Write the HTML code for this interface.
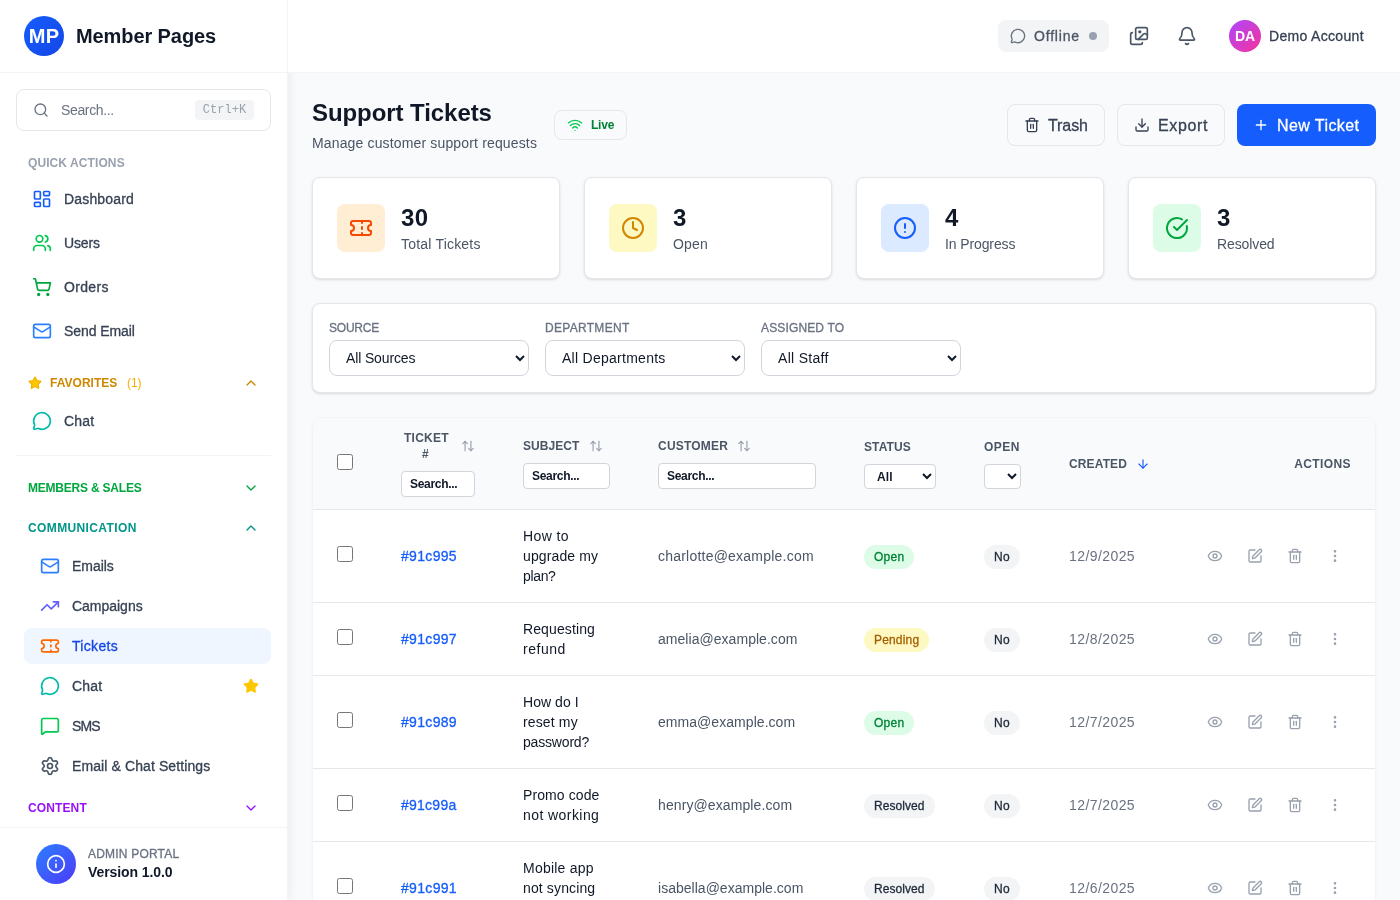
<!DOCTYPE html>
<html lang="en"><head><meta charset="utf-8"><title>Support Tickets</title>
<style>
*{box-sizing:border-box}
html,body{margin:0;padding:0}
html{width:1400px;height:900px;overflow:hidden}
body{width:1400px;height:900px;overflow:hidden;background:#f9fafb;font-family:"Liberation Sans", sans-serif;-webkit-font-smoothing:antialiased}
#app{position:relative;width:1400px;height:900px;overflow:hidden;will-change:transform}
.b,.t,.ic{position:absolute}
.t{white-space:nowrap;display:block}
.ic{display:block;overflow:visible}
select,input{font-family:inherit;margin:0}
</style></head>
<body>
<div id="app">
<div class="b" style="left:0px;top:0px;width:1400px;height:900px;background:#f9fafb"></div>
<div class="b" style="left:0px;top:0px;width:288px;height:900px;background:#fff;border-right:1px solid #f3f4f6;box-shadow:1px 0 10px rgba(16,24,40,.07)"></div>
<div class="b" style="left:288px;top:0px;width:1112px;height:73px;background:#fff;border-bottom:1px solid #f3f4f6"></div>
<div class="b" style="left:0px;top:72px;width:287px;height:1px;background:#f3f4f6"></div>
<div class="b" style="left:24px;top:16px;width:40px;height:40px;border-radius:50%;background:linear-gradient(135deg,#155dfc,#1447e6)"></div>
<span class="t " id="t0" style="left:0px;top:22px;line-height:28px;font-size:20px;font-weight:700;color:#fff;letter-spacing:0.36px;width:40px;text-align:center;left:24px">MP</span>
<span class="t " id="t1" style="left:76px;top:22px;line-height:28px;font-size:20px;font-weight:700;color:#101828;letter-spacing:-0.09px;">Member Pages</span>
<div class="b" style="left:16px;top:89px;width:255px;height:42px;border:1px solid #e5e7eb;border-radius:8px;background:#fff"></div>
<svg class="ic" style="left:33px;top:102px;color:#6a7282" width="16" height="16" viewBox="0 0 24 24" fill="none" stroke="#6a7282" stroke-width="2" stroke-linecap="round" stroke-linejoin="round"><circle cx="11" cy="11" r="8"/><path d="m21 21-4.3-4.3"/></svg>
<span class="t " id="t2" style="left:61px;top:99.5px;line-height:21px;font-size:14px;font-weight:400;color:#6a7282;letter-spacing:-0.36px;">Search...</span>
<div class="b" style="left:195px;top:100px;width:59px;height:20px;background:#f3f4f6;border-radius:4px"></div>
<span class="t mono" id="t3" style="left:0px;top:102px;line-height:16px;font-size:12px;font-weight:400;color:#99a1af;letter-spacing:0.06px;left:195px;width:59px;text-align:center;font-family:'Liberation Mono',monospace">Ctrl+K</span>
<span class="t " id="t4" style="left:28px;top:155px;line-height:16px;font-size:12px;font-weight:600;color:#99a1af;letter-spacing:0.09px;">QUICK ACTIONS</span>
<svg class="ic" style="left:32px;top:189px;color:#155dfc" width="20" height="20" viewBox="0 0 24 24" fill="none" stroke="#155dfc" stroke-width="2" stroke-linecap="round" stroke-linejoin="round"><rect width="7" height="9" x="3" y="3" rx="1"/><rect width="7" height="5" x="14" y="3" rx="1"/><rect width="7" height="9" x="14" y="12" rx="1"/><rect width="7" height="5" x="3" y="16" rx="1"/></svg>
<span class="t " id="t5" style="left:64px;top:189px;line-height:20px;font-size:14px;font-weight:500;color:#364153;letter-spacing:0.17px;-webkit-text-stroke:0.3px currentColor;">Dashboard</span>
<svg class="ic" style="left:32px;top:233px;color:#00c950" width="20" height="20" viewBox="0 0 24 24" fill="none" stroke="#00c950" stroke-width="2" stroke-linecap="round" stroke-linejoin="round"><path d="M16 21v-2a4 4 0 0 0-4-4H6a4 4 0 0 0-4 4v2"/><circle cx="9" cy="7" r="4"/><path d="M22 21v-2a4 4 0 0 0-3-3.87"/><path d="M16 3.13a4 4 0 0 1 0 7.75"/></svg>
<span class="t " id="t6" style="left:64px;top:233px;line-height:20px;font-size:14px;font-weight:500;color:#364153;letter-spacing:-0.12px;-webkit-text-stroke:0.3px currentColor;">Users</span>
<svg class="ic" style="left:32px;top:277px;color:#00a63e" width="20" height="20" viewBox="0 0 24 24" fill="none" stroke="#00a63e" stroke-width="2" stroke-linecap="round" stroke-linejoin="round"><circle cx="8" cy="21" r="1"/><circle cx="19" cy="21" r="1"/><path d="M2.05 2.05h2l2.66 12.42a2 2 0 0 0 2 1.58h9.78a2 2 0 0 0 1.95-1.57l1.65-7.43H5.12"/></svg>
<span class="t " id="t7" style="left:64px;top:277px;line-height:20px;font-size:14px;font-weight:500;color:#364153;letter-spacing:0.32px;-webkit-text-stroke:0.3px currentColor;">Orders</span>
<svg class="ic" style="left:32px;top:321px;color:#2b7fff" width="20" height="20" viewBox="0 0 24 24" fill="none" stroke="#2b7fff" stroke-width="2" stroke-linecap="round" stroke-linejoin="round"><rect width="20" height="16" x="2" y="4" rx="2"/><path d="m22 7-8.97 5.7a1.94 1.94 0 0 1-2.06 0L2 7"/></svg>
<span class="t " id="t8" style="left:64px;top:321px;line-height:20px;font-size:14px;font-weight:500;color:#364153;letter-spacing:-0.09px;-webkit-text-stroke:0.3px currentColor;">Send Email</span>
<svg class="ic" style="left:28px;top:376px;color:#f0b100" width="14" height="14" viewBox="0 0 24 24" fill="#fdc700" stroke="#f0b100" stroke-width="2" stroke-linecap="round" stroke-linejoin="round"><path d="M11.525 2.295a.53.53 0 0 1 .95 0l2.31 4.679a2.123 2.123 0 0 0 1.595 1.16l5.166.756a.53.53 0 0 1 .294.904l-3.736 3.638a2.123 2.123 0 0 0-.611 1.878l.882 5.14a.53.53 0 0 1-.771.56l-4.618-2.428a2.122 2.122 0 0 0-1.973 0L6.396 21.01a.53.53 0 0 1-.77-.56l.881-5.139a2.122 2.122 0 0 0-.611-1.879L2.16 9.795a.53.53 0 0 1 .294-.906l5.165-.755a2.122 2.122 0 0 0 1.597-1.16z"/></svg>
<span class="t " id="t9" style="left:50px;top:375px;line-height:16px;font-size:12px;font-weight:600;color:#d08700;letter-spacing:0.03px;">FAVORITES</span>
<span class="t " id="t10" style="left:127px;top:375px;line-height:16px;font-size:12px;font-weight:400;color:#f0b100;letter-spacing:-0.08px;">(1)</span>
<svg class="ic" style="left:243px;top:375px;color:#d08700" width="16" height="16" viewBox="0 0 24 24" fill="none" stroke="#d08700" stroke-width="2" stroke-linecap="round" stroke-linejoin="round"><path d="m18 15-6-6-6 6"/></svg>
<svg class="ic" style="left:32px;top:411px;color:#00bba7" width="20" height="20" viewBox="0 0 24 24" fill="none" stroke="#00bba7" stroke-width="2" stroke-linecap="round" stroke-linejoin="round"><path d="M2.992 16.342a2 2 0 0 1 .094 1.167l-1.065 3.29a1 1 0 0 0 1.236 1.168l3.413-.998a2 2 0 0 1 1.099.092 10 10 0 1 0-4.777-4.719"/></svg>
<span class="t " id="t11" style="left:64px;top:411px;line-height:20px;font-size:14px;font-weight:500;color:#364153;letter-spacing:0.15px;-webkit-text-stroke:0.3px currentColor;">Chat</span>
<div class="b" style="left:16px;top:455px;width:255px;height:1px;background:#f3f4f6"></div>
<span class="t " id="t12" style="left:28px;top:480px;line-height:16px;font-size:12px;font-weight:600;color:#00a63e;letter-spacing:-0.21px;">MEMBERS &amp; SALES</span>
<svg class="ic" style="left:243px;top:480px;color:#00a63e" width="16" height="16" viewBox="0 0 24 24" fill="none" stroke="#00a63e" stroke-width="2" stroke-linecap="round" stroke-linejoin="round"><path d="m6 9 6 6 6-6"/></svg>
<span class="t " id="t13" style="left:28px;top:520px;line-height:16px;font-size:12px;font-weight:600;color:#009689;letter-spacing:0.38px;">COMMUNICATION</span>
<svg class="ic" style="left:243px;top:520px;color:#009689" width="16" height="16" viewBox="0 0 24 24" fill="none" stroke="#009689" stroke-width="2" stroke-linecap="round" stroke-linejoin="round"><path d="m18 15-6-6-6 6"/></svg>
<div class="b" style="left:24px;top:628px;width:247px;height:36px;background:#eff6ff;border-radius:8px"></div>
<svg class="ic" style="left:40px;top:556px;color:#2b7fff" width="20" height="20" viewBox="0 0 24 24" fill="none" stroke="#2b7fff" stroke-width="2" stroke-linecap="round" stroke-linejoin="round"><rect width="20" height="16" x="2" y="4" rx="2"/><path d="m22 7-8.97 5.7a1.94 1.94 0 0 1-2.06 0L2 7"/></svg>
<span class="t " id="t14" style="left:72px;top:556px;line-height:20px;font-size:14px;font-weight:500;color:#364153;letter-spacing:-0.05px;-webkit-text-stroke:0.3px currentColor;">Emails</span>
<svg class="ic" style="left:40px;top:596px;color:#615fff" width="20" height="20" viewBox="0 0 24 24" fill="none" stroke="#615fff" stroke-width="2" stroke-linecap="round" stroke-linejoin="round"><polyline points="22 7 13.5 15.5 8.5 10.5 2 17"/><polyline points="16 7 22 7 22 13"/></svg>
<span class="t " id="t15" style="left:72px;top:596px;line-height:20px;font-size:14px;font-weight:500;color:#364153;letter-spacing:-0.02px;-webkit-text-stroke:0.3px currentColor;">Campaigns</span>
<svg class="ic" style="left:40px;top:636px;color:#ff6900" width="20" height="20" viewBox="0 0 24 24" fill="none" stroke="#ff6900" stroke-width="2" stroke-linecap="round" stroke-linejoin="round"><path d="M2 9a3 3 0 0 1 0 6v2a2 2 0 0 0 2 2h16a2 2 0 0 0 2-2v-2a3 3 0 0 1 0-6V7a2 2 0 0 0-2-2H4a2 2 0 0 0-2 2Z"/><path d="M13 5v2"/><path d="M13 17v2"/><path d="M13 11v2"/></svg>
<span class="t " id="t16" style="left:72px;top:636px;line-height:20px;font-size:14px;font-weight:500;color:#1447e6;letter-spacing:0.32px;-webkit-text-stroke:0.3px currentColor;">Tickets</span>
<svg class="ic" style="left:40px;top:676px;color:#00bba7" width="20" height="20" viewBox="0 0 24 24" fill="none" stroke="#00bba7" stroke-width="2" stroke-linecap="round" stroke-linejoin="round"><path d="M2.992 16.342a2 2 0 0 1 .094 1.167l-1.065 3.29a1 1 0 0 0 1.236 1.168l3.413-.998a2 2 0 0 1 1.099.092 10 10 0 1 0-4.777-4.719"/></svg>
<span class="t " id="t17" style="left:72px;top:676px;line-height:20px;font-size:14px;font-weight:500;color:#364153;letter-spacing:0.15px;-webkit-text-stroke:0.3px currentColor;">Chat</span>
<svg class="ic" style="left:40px;top:716px;color:#00c950" width="20" height="20" viewBox="0 0 24 24" fill="none" stroke="#00c950" stroke-width="2" stroke-linecap="round" stroke-linejoin="round"><path d="M22 17a2 2 0 0 1-2 2H6.828a2 2 0 0 0-1.414.586l-2.202 2.202A.71.71 0 0 1 2 21.286V5a2 2 0 0 1 2-2h16a2 2 0 0 1 2 2z"/></svg>
<span class="t " id="t18" style="left:72px;top:716px;line-height:20px;font-size:14px;font-weight:500;color:#364153;letter-spacing:-0.87px;-webkit-text-stroke:0.3px currentColor;">SMS</span>
<svg class="ic" style="left:40px;top:756px;color:#4a5565" width="20" height="20" viewBox="0 0 24 24" fill="none" stroke="#4a5565" stroke-width="2" stroke-linecap="round" stroke-linejoin="round"><path d="M9.671 4.136a2.34 2.34 0 0 1 4.659 0 2.34 2.34 0 0 0 3.319 1.915 2.34 2.34 0 0 1 2.33 4.033 2.34 2.34 0 0 0 0 3.831 2.34 2.34 0 0 1-2.33 4.033 2.34 2.34 0 0 0-3.319 1.915 2.34 2.34 0 0 1-4.659 0 2.34 2.34 0 0 0-3.32-1.915 2.34 2.34 0 0 1-2.33-4.033 2.34 2.34 0 0 0 0-3.831A2.34 2.34 0 0 1 6.35 6.051a2.34 2.34 0 0 0 3.319-1.915"/><circle cx="12" cy="12" r="3"/></svg>
<span class="t " id="t19" style="left:72px;top:756px;line-height:20px;font-size:14px;font-weight:500;color:#364153;letter-spacing:0.1px;-webkit-text-stroke:0.3px currentColor;">Email &amp; Chat Settings</span>
<svg class="ic" style="left:243px;top:678px;color:#fdc700" width="16" height="16" viewBox="0 0 24 24" fill="#fdc700" stroke="#fdc700" stroke-width="2" stroke-linecap="round" stroke-linejoin="round"><path d="M11.525 2.295a.53.53 0 0 1 .95 0l2.31 4.679a2.123 2.123 0 0 0 1.595 1.16l5.166.756a.53.53 0 0 1 .294.904l-3.736 3.638a2.123 2.123 0 0 0-.611 1.878l.882 5.14a.53.53 0 0 1-.771.56l-4.618-2.428a2.122 2.122 0 0 0-1.973 0L6.396 21.01a.53.53 0 0 1-.77-.56l.881-5.139a2.122 2.122 0 0 0-.611-1.879L2.16 9.795a.53.53 0 0 1 .294-.906l5.165-.755a2.122 2.122 0 0 0 1.597-1.16z"/></svg>
<span class="t " id="t20" style="left:28px;top:800px;line-height:16px;font-size:12px;font-weight:600;color:#9810fa;letter-spacing:0.12px;">CONTENT</span>
<svg class="ic" style="left:243px;top:800px;color:#9810fa" width="16" height="16" viewBox="0 0 24 24" fill="none" stroke="#9810fa" stroke-width="2" stroke-linecap="round" stroke-linejoin="round"><path d="m6 9 6 6 6-6"/></svg>
<div class="b" style="left:0px;top:827px;width:287px;height:73px;background:#fff;border-top:1px solid #f3f4f6"></div>
<div class="b" style="left:36px;top:844px;width:40px;height:40px;border-radius:50%;background:linear-gradient(135deg,#2b7fff,#4f39f6)"></div>
<svg class="ic" style="left:46px;top:854px;color:#fff" width="20" height="20" viewBox="0 0 24 24" fill="none" stroke="#fff" stroke-width="2" stroke-linecap="round" stroke-linejoin="round"><circle cx="12" cy="12" r="10"/><path d="M12 16v-4"/><path d="M12 8h.01"/></svg>
<span class="t " id="t21" style="left:88px;top:846px;line-height:16px;font-size:12px;font-weight:500;color:#6a7282;letter-spacing:0.2px;-webkit-text-stroke:0.3px currentColor;">ADMIN PORTAL</span>
<span class="t " id="t22" style="left:88px;top:862px;line-height:20px;font-size:14px;font-weight:600;color:#101828;letter-spacing:-0.08px;">Version 1.0.0</span>
<div class="b" style="left:998px;top:20px;width:111px;height:32px;background:#f3f4f6;border-radius:8px"></div>
<svg class="ic" style="left:1010px;top:28px;color:#6a7282" width="16" height="16" viewBox="0 0 24 24" fill="none" stroke="#6a7282" stroke-width="2" stroke-linecap="round" stroke-linejoin="round"><path d="M2.992 16.342a2 2 0 0 1 .094 1.167l-1.065 3.29a1 1 0 0 0 1.236 1.168l3.413-.998a2 2 0 0 1 1.099.092 10 10 0 1 0-4.777-4.719"/></svg>
<span class="t " id="t23" style="left:1034px;top:26px;line-height:20px;font-size:14px;font-weight:500;color:#4a5565;letter-spacing:0.8px;-webkit-text-stroke:0.3px currentColor;">Offline</span>
<div class="b" style="left:1089px;top:32px;width:8px;height:8px;background:#99a1af;border-radius:50%"></div>
<svg class="ic" style="left:1129px;top:26px;color:#4a5565" width="20" height="20" viewBox="0 0 24 24" fill="none" stroke="#4a5565" stroke-width="2" stroke-linecap="round" stroke-linejoin="round"><path d="M4 8a2 2 0 0 0-2 2v10a2 2 0 0 0 2 2h10a2 2 0 0 0 2-2"/><rect width="14" height="14" x="8" y="2" rx="2"/><circle cx="13" cy="7" r="1" fill="currentColor"/><path d="m22 11-1.296-1.296a2.4 2.4 0 0 0-3.408 0L11 16"/></svg>
<svg class="ic" style="left:1177px;top:26px;color:#4a5565" width="20" height="20" viewBox="0 0 24 24" fill="none" stroke="#4a5565" stroke-width="2" stroke-linecap="round" stroke-linejoin="round"><path d="M10.268 21a2 2 0 0 0 3.464 0"/><path d="M3.262 15.326A1 1 0 0 0 4 17h16a1 1 0 0 0 .74-1.673C19.41 13.956 18 12.499 18 8A6 6 0 0 0 6 8c0 4.499-1.411 5.956-2.738 7.326"/></svg>
<div class="b" style="left:1229px;top:20px;width:32px;height:32px;border-radius:50%;background:linear-gradient(135deg,#ad46ff,#f6339a)"></div>
<span class="t " id="t24" style="left:0px;top:26px;line-height:20px;font-size:14px;font-weight:600;color:#fff;letter-spacing:-0.16px;left:1229px;width:32px;text-align:center">DA</span>
<span class="t " id="t25" style="left:1269px;top:26px;line-height:20px;font-size:14px;font-weight:500;color:#364153;letter-spacing:0.32px;-webkit-text-stroke:0.3px currentColor;">Demo Account</span>
<span class="t " id="t26" style="left:312px;top:97px;line-height:32px;font-size:24px;font-weight:700;color:#101828;letter-spacing:-0.07px;">Support Tickets</span>
<span class="t " id="t27" style="left:312px;top:133px;line-height:20px;font-size:14px;font-weight:400;color:#4a5565;letter-spacing:0.15px;">Manage customer support requests</span>
<div class="b" style="left:554px;top:110px;width:73px;height:30px;border:1px solid #e5e7eb;border-radius:8px;background:#f9fafb"></div>
<svg class="ic" style="left:567px;top:117px;color:#00c950" width="16" height="16" viewBox="0 0 24 24" fill="none" stroke="#00c950" stroke-width="2" stroke-linecap="round" stroke-linejoin="round"><path d="M12 20h.01"/><path d="M2 8.82a15 15 0 0 1 20 0"/><path d="M5 12.859a10 10 0 0 1 14 0"/><path d="M8.5 16.429a5 5 0 0 1 7 0"/></svg>
<span class="t " id="t28" style="left:591px;top:117px;line-height:16px;font-size:12px;font-weight:600;color:#008236;letter-spacing:-0.21px;">Live</span>
<div class="b" style="left:1007px;top:104px;width:98px;height:42px;border:1px solid #e5e7eb;border-radius:8px;background:#f9fafb"></div>
<svg class="ic" style="left:1024px;top:117px;color:#364153" width="16" height="16" viewBox="0 0 24 24" fill="none" stroke="#364153" stroke-width="2" stroke-linecap="round" stroke-linejoin="round"><path d="M10 11v6"/><path d="M14 11v6"/><path d="M19 6v14a2 2 0 0 1-2 2H7a2 2 0 0 1-2-2V6"/><path d="M3 6h18"/><path d="M8 6V4a2 2 0 0 1 2-2h4a2 2 0 0 1 2 2v2"/></svg>
<span class="t " id="t29" style="left:1048px;top:114px;line-height:24px;font-size:16px;font-weight:500;color:#364153;letter-spacing:-0.08px;-webkit-text-stroke:0.3px currentColor;">Trash</span>
<div class="b" style="left:1117px;top:104px;width:108px;height:42px;border:1px solid #e5e7eb;border-radius:8px;background:#f9fafb"></div>
<svg class="ic" style="left:1134px;top:117px;color:#364153" width="16" height="16" viewBox="0 0 24 24" fill="none" stroke="#364153" stroke-width="2" stroke-linecap="round" stroke-linejoin="round"><path d="M21 15v4a2 2 0 0 1-2 2H5a2 2 0 0 1-2-2v-4"/><polyline points="7 10 12 15 17 10"/><line x1="12" x2="12" y1="15" y2="3"/></svg>
<span class="t " id="t30" style="left:1158px;top:114px;line-height:24px;font-size:16px;font-weight:500;color:#364153;letter-spacing:0.62px;-webkit-text-stroke:0.3px currentColor;">Export</span>
<div class="b" style="left:1237px;top:104px;width:139px;height:42px;border-radius:8px;background:#155dfc"></div>
<svg class="ic" style="left:1253px;top:117px;color:#fff" width="16" height="16" viewBox="0 0 24 24" fill="none" stroke="#fff" stroke-width="2" stroke-linecap="round" stroke-linejoin="round"><path d="M5 12h14"/><path d="M12 5v14"/></svg>
<span class="t " id="t31" style="left:1277px;top:114px;line-height:24px;font-size:16px;font-weight:500;color:#fff;letter-spacing:0.42px;-webkit-text-stroke:0.3px currentColor;">New Ticket</span>
<div class="b" style="left:312px;top:177px;width:248px;height:102px;background:#fff;border:1px solid #e5e7eb;border-radius:8px;box-shadow:0 1px 3px rgba(0,0,0,.1),0 1px 2px -1px rgba(0,0,0,.1)"></div>
<div class="b" style="left:337px;top:204px;width:48px;height:48px;background:#ffedd4;border-radius:8px"></div>
<svg class="ic" style="left:349px;top:216px;color:#f54900" width="24" height="24" viewBox="0 0 24 24" fill="none" stroke="#f54900" stroke-width="2" stroke-linecap="round" stroke-linejoin="round"><path d="M2 9a3 3 0 0 1 0 6v2a2 2 0 0 0 2 2h16a2 2 0 0 0 2-2v-2a3 3 0 0 1 0-6V7a2 2 0 0 0-2-2H4a2 2 0 0 0-2 2Z"/><path d="M13 5v2"/><path d="M13 17v2"/><path d="M13 11v2"/></svg>
<span class="t " id="t32" style="left:401px;top:202px;line-height:32px;font-size:24px;font-weight:700;color:#101828;letter-spacing:0.3px;">30</span>
<span class="t " id="t33" style="left:401px;top:234px;line-height:20px;font-size:14px;font-weight:400;color:#4a5565;letter-spacing:0.2px;">Total Tickets</span>
<div class="b" style="left:584px;top:177px;width:248px;height:102px;background:#fff;border:1px solid #e5e7eb;border-radius:8px;box-shadow:0 1px 3px rgba(0,0,0,.1),0 1px 2px -1px rgba(0,0,0,.1)"></div>
<div class="b" style="left:609px;top:204px;width:48px;height:48px;background:#fef9c2;border-radius:8px"></div>
<svg class="ic" style="left:621px;top:216px;color:#d08700" width="24" height="24" viewBox="0 0 24 24" fill="none" stroke="#d08700" stroke-width="2" stroke-linecap="round" stroke-linejoin="round"><circle cx="12" cy="12" r="10"/><polyline points="12 6 12 12 16 14"/></svg>
<span class="t " id="t34" style="left:673px;top:202px;line-height:32px;font-size:24px;font-weight:700;color:#101828;letter-spacing:0.3px;">3</span>
<span class="t " id="t35" style="left:673px;top:234px;line-height:20px;font-size:14px;font-weight:400;color:#4a5565;letter-spacing:0.2px;">Open</span>
<div class="b" style="left:856px;top:177px;width:248px;height:102px;background:#fff;border:1px solid #e5e7eb;border-radius:8px;box-shadow:0 1px 3px rgba(0,0,0,.1),0 1px 2px -1px rgba(0,0,0,.1)"></div>
<div class="b" style="left:881px;top:204px;width:48px;height:48px;background:#dbeafe;border-radius:8px"></div>
<svg class="ic" style="left:893px;top:216px;color:#155dfc" width="24" height="24" viewBox="0 0 24 24" fill="none" stroke="#155dfc" stroke-width="2" stroke-linecap="round" stroke-linejoin="round"><circle cx="12" cy="12" r="10"/><line x1="12" x2="12" y1="8" y2="12"/><line x1="12" x2="12.01" y1="16" y2="16"/></svg>
<span class="t " id="t36" style="left:945px;top:202px;line-height:32px;font-size:24px;font-weight:700;color:#101828;letter-spacing:0.3px;">4</span>
<span class="t " id="t37" style="left:945px;top:234px;line-height:20px;font-size:14px;font-weight:400;color:#4a5565;letter-spacing:-0.11px;">In Progress</span>
<div class="b" style="left:1128px;top:177px;width:248px;height:102px;background:#fff;border:1px solid #e5e7eb;border-radius:8px;box-shadow:0 1px 3px rgba(0,0,0,.1),0 1px 2px -1px rgba(0,0,0,.1)"></div>
<div class="b" style="left:1153px;top:204px;width:48px;height:48px;background:#dcfce7;border-radius:8px"></div>
<svg class="ic" style="left:1165px;top:216px;color:#00a63e" width="24" height="24" viewBox="0 0 24 24" fill="none" stroke="#00a63e" stroke-width="2" stroke-linecap="round" stroke-linejoin="round"><path d="M21.801 10A10 10 0 1 1 17 3.335"/><path d="m9 11 3 3L22 4"/></svg>
<span class="t " id="t38" style="left:1217px;top:202px;line-height:32px;font-size:24px;font-weight:700;color:#101828;letter-spacing:0.3px;">3</span>
<span class="t " id="t39" style="left:1217px;top:234px;line-height:20px;font-size:14px;font-weight:400;color:#4a5565;letter-spacing:-0.11px;">Resolved</span>
<div class="b" style="left:312px;top:303px;width:1064px;height:90px;background:#fff;border:1px solid #e5e7eb;border-radius:8px;box-shadow:0 1px 3px rgba(0,0,0,.1),0 1px 2px -1px rgba(0,0,0,.1)"></div>
<span class="t " id="t40" style="left:329px;top:320px;line-height:16px;font-size:12px;font-weight:500;color:#6a7282;letter-spacing:-0.21px;-webkit-text-stroke:0.3px currentColor;">SOURCE</span>
<select class="b sel" id="t41" style="left:329px;top:340px;width:200px;height:36px;font-size:14px;padding:0 12px;border:1px solid #d1d5dc;border-radius:8px;background:#fff;color:#101828;letter-spacing:-0.14px"><option>All Sources</option></select>
<span class="t " id="t42" style="left:545px;top:320px;line-height:16px;font-size:12px;font-weight:500;color:#6a7282;letter-spacing:0.3px;-webkit-text-stroke:0.3px currentColor;">DEPARTMENT</span>
<select class="b sel" id="t43" style="left:545px;top:340px;width:200px;height:36px;font-size:14px;padding:0 12px;border:1px solid #d1d5dc;border-radius:8px;background:#fff;color:#101828;letter-spacing:0.27px"><option>All Departments</option></select>
<span class="t " id="t44" style="left:761px;top:320px;line-height:16px;font-size:12px;font-weight:500;color:#6a7282;letter-spacing:0.14px;-webkit-text-stroke:0.3px currentColor;">ASSIGNED TO</span>
<select class="b sel" id="t45" style="left:761px;top:340px;width:200px;height:36px;font-size:14px;padding:0 12px;border:1px solid #d1d5dc;border-radius:8px;background:#fff;color:#101828;letter-spacing:0.3px"><option>All Staff</option></select>
<div class="b" style="left:312px;top:417px;width:1064px;height:620px;background:#fff;border:1px solid #f3f4f6;border-radius:12px;box-shadow:0 1px 2px rgba(0,0,0,.05)"></div>
<div class="b" style="left:313px;top:418px;width:1062px;height:91px;background:#f9fafb;border-radius:11px 11px 0 0"></div>
<div class="b" style="left:313px;top:509px;width:1062px;height:1px;background:#e5e7eb"></div>
<input type="checkbox" class="b" style="left:337px;top:454px;margin:0;width:16px;height:16px">
<span class="t " id="t46" style="left:404px;top:430px;line-height:16px;font-size:12px;font-weight:600;color:#4a5565;letter-spacing:0.24px;">TICKET</span>
<span class="t " id="t47" style="left:422px;top:446px;line-height:16px;font-size:12px;font-weight:600;color:#4a5565;letter-spacing:1.5px;">#</span>
<svg class="ic" style="left:461px;top:439px;color:#99a1af" width="14" height="14" viewBox="0 0 24 24" fill="none" stroke="#99a1af" stroke-width="2" stroke-linecap="round" stroke-linejoin="round"><path d="m21 16-4 4-4-4"/><path d="M17 20V4"/><path d="m3 8 4-4 4 4"/><path d="M7 4v16"/></svg>
<svg class="ic" style="left:589px;top:439px;color:#99a1af" width="14" height="14" viewBox="0 0 24 24" fill="none" stroke="#99a1af" stroke-width="2" stroke-linecap="round" stroke-linejoin="round"><path d="m21 16-4 4-4-4"/><path d="M17 20V4"/><path d="m3 8 4-4 4 4"/><path d="M7 4v16"/></svg>
<svg class="ic" style="left:737px;top:439px;color:#99a1af" width="14" height="14" viewBox="0 0 24 24" fill="none" stroke="#99a1af" stroke-width="2" stroke-linecap="round" stroke-linejoin="round"><path d="m21 16-4 4-4-4"/><path d="M17 20V4"/><path d="m3 8 4-4 4 4"/><path d="M7 4v16"/></svg>
<span class="t " id="t48" style="left:523px;top:438px;line-height:16px;font-size:12px;font-weight:600;color:#4a5565;letter-spacing:0.04px;">SUBJECT</span>
<span class="t " id="t49" style="left:658px;top:438px;line-height:16px;font-size:12px;font-weight:600;color:#4a5565;letter-spacing:0.21px;">CUSTOMER</span>
<span class="t " id="t50" style="left:864px;top:439px;line-height:16px;font-size:12px;font-weight:600;color:#4a5565;letter-spacing:0.11px;">STATUS</span>
<span class="t " id="t51" style="left:984px;top:439px;line-height:16px;font-size:12px;font-weight:600;color:#4a5565;letter-spacing:0.45px;">OPEN</span>
<span class="t " id="t52" style="left:1069px;top:456px;line-height:16px;font-size:12px;font-weight:600;color:#4a5565;letter-spacing:0.13px;">CREATED</span>
<svg class="ic" style="left:1136px;top:457px;color:#155dfc" width="14" height="14" viewBox="0 0 24 24" fill="none" stroke="#155dfc" stroke-width="2" stroke-linecap="round" stroke-linejoin="round"><path d="M12 5v14"/><path d="m19 12-7 7-7-7"/></svg>
<span class="t " id="t53" style="right:49px;top:456px;line-height:16px;font-size:12px;font-weight:600;color:#4a5565;letter-spacing:0.4px;">ACTIONS</span>
<div class="b" style="left:401px;top:471px;width:74px;height:26px;border:1px solid #d1d5dc;border-radius:4px;background:#fff"></div>
<span class="t " id="t54" style="left:410px;top:476px;line-height:16px;font-size:12px;font-weight:600;color:#101828;letter-spacing:-0.31px;">Search...</span>
<div class="b" style="left:523px;top:463px;width:87px;height:26px;border:1px solid #d1d5dc;border-radius:4px;background:#fff"></div>
<span class="t " id="t55" style="left:532px;top:468px;line-height:16px;font-size:12px;font-weight:600;color:#101828;letter-spacing:-0.31px;">Search...</span>
<div class="b" style="left:658px;top:463px;width:158px;height:26px;border:1px solid #d1d5dc;border-radius:4px;background:#fff"></div>
<span class="t " id="t56" style="left:667px;top:468px;line-height:16px;font-size:12px;font-weight:600;color:#101828;letter-spacing:-0.31px;">Search...</span>
<select class="b sel" id="t57" style="left:864px;top:464px;width:72px;height:25px;font-size:12px;font-weight:600;padding:0 4px 0 8px;border:1px solid #d1d5dc;border-radius:4px;background:#fff;color:#101828;letter-spacing:0.17px"><option>All</option></select>
<select class="b sel" style="left:984px;top:464px;width:37px;height:25px;font-size:12px;font-weight:600;padding:0 4px 0 8px;border:1px solid #d1d5dc;border-radius:4px;background:#fff;color:#101828"><option></option></select>
<div class="b" style="left:313px;top:602px;width:1062px;height:1px;background:#e5e7eb"></div>
<div class="b" style="left:313px;top:675px;width:1062px;height:1px;background:#e5e7eb"></div>
<div class="b" style="left:313px;top:768px;width:1062px;height:1px;background:#e5e7eb"></div>
<div class="b" style="left:313px;top:841px;width:1062px;height:1px;background:#e5e7eb"></div>
<div class="b" style="left:313px;top:934px;width:1062px;height:1px;background:#e5e7eb"></div>
<input type="checkbox" class="b" style="left:337px;top:546px;margin:0;width:16px;height:16px">
<span class="t " id="t58" style="left:401px;top:546px;line-height:20px;font-size:14px;font-weight:500;color:#155dfc;letter-spacing:0.32px;-webkit-text-stroke:0.3px currentColor;">#91c995</span>
<span class="t " id="t59" style="left:523px;top:526px;line-height:20px;font-size:14px;font-weight:400;color:#101828;letter-spacing:0.41px;">How to</span>
<span class="t " id="t60" style="left:523px;top:546px;line-height:20px;font-size:14px;font-weight:400;color:#101828;letter-spacing:0.13px;">upgrade my</span>
<span class="t " id="t61" style="left:523px;top:566px;line-height:20px;font-size:14px;font-weight:400;color:#101828;letter-spacing:-0.35px;">plan?</span>
<span class="t " id="t62" style="left:658px;top:546px;line-height:20px;font-size:14px;font-weight:400;color:#4a5565;letter-spacing:0.22px;">charlotte@example.com</span>
<div class="b" style="left:864px;top:545px;width:50px;height:24px;background:#dcfce7;border-radius:12px"></div>
<span class="t " id="t63" style="left:874px;top:549px;line-height:16px;font-size:12px;font-weight:500;color:#008236;letter-spacing:0.26px;-webkit-text-stroke:0.3px currentColor;">Open</span>
<div class="b" style="left:984px;top:545px;width:36px;height:24px;background:#f3f4f6;border-radius:12px"></div>
<span class="t " id="t64" style="left:994px;top:549px;line-height:16px;font-size:12px;font-weight:500;color:#1e2939;letter-spacing:0.31px;-webkit-text-stroke:0.3px currentColor;">No</span>
<span class="t " id="t65" style="left:1069px;top:546px;line-height:20px;font-size:14px;font-weight:400;color:#6a7282;letter-spacing:0.42px;">12/9/2025</span>
<svg class="ic" style="left:1207px;top:548px;color:#99a1af" width="16" height="16" viewBox="0 0 24 24" fill="none" stroke="#99a1af" stroke-width="2" stroke-linecap="round" stroke-linejoin="round"><path d="M2.062 12.348a1 1 0 0 1 0-.696 10.75 10.75 0 0 1 19.876 0 1 1 0 0 1 0 .696 10.75 10.75 0 0 1-19.876 0"/><circle cx="12" cy="12" r="3"/></svg>
<svg class="ic" style="left:1247px;top:548px;color:#99a1af" width="16" height="16" viewBox="0 0 24 24" fill="none" stroke="#99a1af" stroke-width="2" stroke-linecap="round" stroke-linejoin="round"><path d="M12 3H5a2 2 0 0 0-2 2v14a2 2 0 0 0 2 2h14a2 2 0 0 0 2-2v-7"/><path d="M18.375 2.625a1 1 0 0 1 3 3l-9.013 9.014a2 2 0 0 1-.853.505l-2.873.84a.5.5 0 0 1-.62-.62l.84-2.873a2 2 0 0 1 .506-.852z"/></svg>
<svg class="ic" style="left:1287px;top:548px;color:#99a1af" width="16" height="16" viewBox="0 0 24 24" fill="none" stroke="#99a1af" stroke-width="2" stroke-linecap="round" stroke-linejoin="round"><path d="M10 11v6"/><path d="M14 11v6"/><path d="M19 6v14a2 2 0 0 1-2 2H7a2 2 0 0 1-2-2V6"/><path d="M3 6h18"/><path d="M8 6V4a2 2 0 0 1 2-2h4a2 2 0 0 1 2 2v2"/></svg>
<svg class="ic" style="left:1327px;top:548px;color:#99a1af" width="16" height="16" viewBox="0 0 24 24" fill="none" stroke="#99a1af" stroke-width="2" stroke-linecap="round" stroke-linejoin="round"><circle cx="12" cy="12" r="1"/><circle cx="12" cy="5" r="1"/><circle cx="12" cy="19" r="1"/></svg>
<input type="checkbox" class="b" style="left:337px;top:629px;margin:0;width:16px;height:16px">
<span class="t " id="t66" style="left:401px;top:629px;line-height:20px;font-size:14px;font-weight:500;color:#155dfc;letter-spacing:0.32px;-webkit-text-stroke:0.3px currentColor;">#91c997</span>
<span class="t " id="t67" style="left:523px;top:619px;line-height:20px;font-size:14px;font-weight:400;color:#101828;letter-spacing:0.11px;">Requesting</span>
<span class="t " id="t68" style="left:523px;top:639px;line-height:20px;font-size:14px;font-weight:400;color:#101828;letter-spacing:0.53px;">refund</span>
<span class="t " id="t69" style="left:658px;top:629px;line-height:20px;font-size:14px;font-weight:400;color:#4a5565;letter-spacing:0.04px;">amelia@example.com</span>
<div class="b" style="left:864px;top:628px;width:65px;height:24px;background:#fef9c2;border-radius:12px"></div>
<span class="t " id="t70" style="left:874px;top:632px;line-height:16px;font-size:12px;font-weight:500;color:#a65f00;letter-spacing:0.17px;-webkit-text-stroke:0.3px currentColor;">Pending</span>
<div class="b" style="left:984px;top:628px;width:36px;height:24px;background:#f3f4f6;border-radius:12px"></div>
<span class="t " id="t71" style="left:994px;top:632px;line-height:16px;font-size:12px;font-weight:500;color:#1e2939;letter-spacing:0.31px;-webkit-text-stroke:0.3px currentColor;">No</span>
<span class="t " id="t72" style="left:1069px;top:629px;line-height:20px;font-size:14px;font-weight:400;color:#6a7282;letter-spacing:0.42px;">12/8/2025</span>
<svg class="ic" style="left:1207px;top:631px;color:#99a1af" width="16" height="16" viewBox="0 0 24 24" fill="none" stroke="#99a1af" stroke-width="2" stroke-linecap="round" stroke-linejoin="round"><path d="M2.062 12.348a1 1 0 0 1 0-.696 10.75 10.75 0 0 1 19.876 0 1 1 0 0 1 0 .696 10.75 10.75 0 0 1-19.876 0"/><circle cx="12" cy="12" r="3"/></svg>
<svg class="ic" style="left:1247px;top:631px;color:#99a1af" width="16" height="16" viewBox="0 0 24 24" fill="none" stroke="#99a1af" stroke-width="2" stroke-linecap="round" stroke-linejoin="round"><path d="M12 3H5a2 2 0 0 0-2 2v14a2 2 0 0 0 2 2h14a2 2 0 0 0 2-2v-7"/><path d="M18.375 2.625a1 1 0 0 1 3 3l-9.013 9.014a2 2 0 0 1-.853.505l-2.873.84a.5.5 0 0 1-.62-.62l.84-2.873a2 2 0 0 1 .506-.852z"/></svg>
<svg class="ic" style="left:1287px;top:631px;color:#99a1af" width="16" height="16" viewBox="0 0 24 24" fill="none" stroke="#99a1af" stroke-width="2" stroke-linecap="round" stroke-linejoin="round"><path d="M10 11v6"/><path d="M14 11v6"/><path d="M19 6v14a2 2 0 0 1-2 2H7a2 2 0 0 1-2-2V6"/><path d="M3 6h18"/><path d="M8 6V4a2 2 0 0 1 2-2h4a2 2 0 0 1 2 2v2"/></svg>
<svg class="ic" style="left:1327px;top:631px;color:#99a1af" width="16" height="16" viewBox="0 0 24 24" fill="none" stroke="#99a1af" stroke-width="2" stroke-linecap="round" stroke-linejoin="round"><circle cx="12" cy="12" r="1"/><circle cx="12" cy="5" r="1"/><circle cx="12" cy="19" r="1"/></svg>
<input type="checkbox" class="b" style="left:337px;top:712px;margin:0;width:16px;height:16px">
<span class="t " id="t73" style="left:401px;top:712px;line-height:20px;font-size:14px;font-weight:500;color:#155dfc;letter-spacing:0.32px;-webkit-text-stroke:0.3px currentColor;">#91c989</span>
<span class="t " id="t74" style="left:523px;top:692px;line-height:20px;font-size:14px;font-weight:400;color:#101828;letter-spacing:0.05px;">How do I</span>
<span class="t " id="t75" style="left:523px;top:712px;line-height:20px;font-size:14px;font-weight:400;color:#101828;letter-spacing:0.14px;">reset my</span>
<span class="t " id="t76" style="left:523px;top:732px;line-height:20px;font-size:14px;font-weight:400;color:#101828;letter-spacing:-0.18px;">password?</span>
<span class="t " id="t77" style="left:658px;top:712px;line-height:20px;font-size:14px;font-weight:400;color:#4a5565;letter-spacing:0.05px;">emma@example.com</span>
<div class="b" style="left:864px;top:711px;width:50px;height:24px;background:#dcfce7;border-radius:12px"></div>
<span class="t " id="t78" style="left:874px;top:715px;line-height:16px;font-size:12px;font-weight:500;color:#008236;letter-spacing:0.26px;-webkit-text-stroke:0.3px currentColor;">Open</span>
<div class="b" style="left:984px;top:711px;width:36px;height:24px;background:#f3f4f6;border-radius:12px"></div>
<span class="t " id="t79" style="left:994px;top:715px;line-height:16px;font-size:12px;font-weight:500;color:#1e2939;letter-spacing:0.31px;-webkit-text-stroke:0.3px currentColor;">No</span>
<span class="t " id="t80" style="left:1069px;top:712px;line-height:20px;font-size:14px;font-weight:400;color:#6a7282;letter-spacing:0.42px;">12/7/2025</span>
<svg class="ic" style="left:1207px;top:714px;color:#99a1af" width="16" height="16" viewBox="0 0 24 24" fill="none" stroke="#99a1af" stroke-width="2" stroke-linecap="round" stroke-linejoin="round"><path d="M2.062 12.348a1 1 0 0 1 0-.696 10.75 10.75 0 0 1 19.876 0 1 1 0 0 1 0 .696 10.75 10.75 0 0 1-19.876 0"/><circle cx="12" cy="12" r="3"/></svg>
<svg class="ic" style="left:1247px;top:714px;color:#99a1af" width="16" height="16" viewBox="0 0 24 24" fill="none" stroke="#99a1af" stroke-width="2" stroke-linecap="round" stroke-linejoin="round"><path d="M12 3H5a2 2 0 0 0-2 2v14a2 2 0 0 0 2 2h14a2 2 0 0 0 2-2v-7"/><path d="M18.375 2.625a1 1 0 0 1 3 3l-9.013 9.014a2 2 0 0 1-.853.505l-2.873.84a.5.5 0 0 1-.62-.62l.84-2.873a2 2 0 0 1 .506-.852z"/></svg>
<svg class="ic" style="left:1287px;top:714px;color:#99a1af" width="16" height="16" viewBox="0 0 24 24" fill="none" stroke="#99a1af" stroke-width="2" stroke-linecap="round" stroke-linejoin="round"><path d="M10 11v6"/><path d="M14 11v6"/><path d="M19 6v14a2 2 0 0 1-2 2H7a2 2 0 0 1-2-2V6"/><path d="M3 6h18"/><path d="M8 6V4a2 2 0 0 1 2-2h4a2 2 0 0 1 2 2v2"/></svg>
<svg class="ic" style="left:1327px;top:714px;color:#99a1af" width="16" height="16" viewBox="0 0 24 24" fill="none" stroke="#99a1af" stroke-width="2" stroke-linecap="round" stroke-linejoin="round"><circle cx="12" cy="12" r="1"/><circle cx="12" cy="5" r="1"/><circle cx="12" cy="19" r="1"/></svg>
<input type="checkbox" class="b" style="left:337px;top:795px;margin:0;width:16px;height:16px">
<span class="t " id="t81" style="left:401px;top:795px;line-height:20px;font-size:14px;font-weight:500;color:#155dfc;letter-spacing:0.25px;-webkit-text-stroke:0.3px currentColor;">#91c99a</span>
<span class="t " id="t82" style="left:523px;top:785px;line-height:20px;font-size:14px;font-weight:400;color:#101828;letter-spacing:0.1px;">Promo code</span>
<span class="t " id="t83" style="left:523px;top:805px;line-height:20px;font-size:14px;font-weight:400;color:#101828;letter-spacing:0.43px;">not working</span>
<span class="t " id="t84" style="left:658px;top:795px;line-height:20px;font-size:14px;font-weight:400;color:#4a5565;letter-spacing:0.1px;">henry@example.com</span>
<div class="b" style="left:864px;top:794px;width:71px;height:24px;background:#f3f4f6;border-radius:12px"></div>
<span class="t " id="t85" style="left:874px;top:798px;line-height:16px;font-size:12px;font-weight:500;color:#1e2939;letter-spacing:0.04px;-webkit-text-stroke:0.3px currentColor;">Resolved</span>
<div class="b" style="left:984px;top:794px;width:36px;height:24px;background:#f3f4f6;border-radius:12px"></div>
<span class="t " id="t86" style="left:994px;top:798px;line-height:16px;font-size:12px;font-weight:500;color:#1e2939;letter-spacing:0.31px;-webkit-text-stroke:0.3px currentColor;">No</span>
<span class="t " id="t87" style="left:1069px;top:795px;line-height:20px;font-size:14px;font-weight:400;color:#6a7282;letter-spacing:0.42px;">12/7/2025</span>
<svg class="ic" style="left:1207px;top:797px;color:#99a1af" width="16" height="16" viewBox="0 0 24 24" fill="none" stroke="#99a1af" stroke-width="2" stroke-linecap="round" stroke-linejoin="round"><path d="M2.062 12.348a1 1 0 0 1 0-.696 10.75 10.75 0 0 1 19.876 0 1 1 0 0 1 0 .696 10.75 10.75 0 0 1-19.876 0"/><circle cx="12" cy="12" r="3"/></svg>
<svg class="ic" style="left:1247px;top:797px;color:#99a1af" width="16" height="16" viewBox="0 0 24 24" fill="none" stroke="#99a1af" stroke-width="2" stroke-linecap="round" stroke-linejoin="round"><path d="M12 3H5a2 2 0 0 0-2 2v14a2 2 0 0 0 2 2h14a2 2 0 0 0 2-2v-7"/><path d="M18.375 2.625a1 1 0 0 1 3 3l-9.013 9.014a2 2 0 0 1-.853.505l-2.873.84a.5.5 0 0 1-.62-.62l.84-2.873a2 2 0 0 1 .506-.852z"/></svg>
<svg class="ic" style="left:1287px;top:797px;color:#99a1af" width="16" height="16" viewBox="0 0 24 24" fill="none" stroke="#99a1af" stroke-width="2" stroke-linecap="round" stroke-linejoin="round"><path d="M10 11v6"/><path d="M14 11v6"/><path d="M19 6v14a2 2 0 0 1-2 2H7a2 2 0 0 1-2-2V6"/><path d="M3 6h18"/><path d="M8 6V4a2 2 0 0 1 2-2h4a2 2 0 0 1 2 2v2"/></svg>
<svg class="ic" style="left:1327px;top:797px;color:#99a1af" width="16" height="16" viewBox="0 0 24 24" fill="none" stroke="#99a1af" stroke-width="2" stroke-linecap="round" stroke-linejoin="round"><circle cx="12" cy="12" r="1"/><circle cx="12" cy="5" r="1"/><circle cx="12" cy="19" r="1"/></svg>
<input type="checkbox" class="b" style="left:337px;top:878px;margin:0;width:16px;height:16px">
<span class="t " id="t88" style="left:401px;top:878px;line-height:20px;font-size:14px;font-weight:500;color:#155dfc;letter-spacing:0.32px;-webkit-text-stroke:0.3px currentColor;">#91c991</span>
<span class="t " id="t89" style="left:523px;top:858px;line-height:20px;font-size:14px;font-weight:400;color:#101828;letter-spacing:0.22px;">Mobile app</span>
<span class="t " id="t90" style="left:523px;top:878px;line-height:20px;font-size:14px;font-weight:400;color:#101828;letter-spacing:0.13px;">not syncing</span>
<span class="t " id="t91" style="left:658px;top:878px;line-height:20px;font-size:14px;font-weight:400;color:#4a5565;letter-spacing:0.02px;">isabella@example.com</span>
<div class="b" style="left:864px;top:877px;width:71px;height:24px;background:#f3f4f6;border-radius:12px"></div>
<span class="t " id="t92" style="left:874px;top:881px;line-height:16px;font-size:12px;font-weight:500;color:#1e2939;letter-spacing:0.04px;-webkit-text-stroke:0.3px currentColor;">Resolved</span>
<div class="b" style="left:984px;top:877px;width:36px;height:24px;background:#f3f4f6;border-radius:12px"></div>
<span class="t " id="t93" style="left:994px;top:881px;line-height:16px;font-size:12px;font-weight:500;color:#1e2939;letter-spacing:0.31px;-webkit-text-stroke:0.3px currentColor;">No</span>
<span class="t " id="t94" style="left:1069px;top:878px;line-height:20px;font-size:14px;font-weight:400;color:#6a7282;letter-spacing:0.42px;">12/6/2025</span>
<svg class="ic" style="left:1207px;top:880px;color:#99a1af" width="16" height="16" viewBox="0 0 24 24" fill="none" stroke="#99a1af" stroke-width="2" stroke-linecap="round" stroke-linejoin="round"><path d="M2.062 12.348a1 1 0 0 1 0-.696 10.75 10.75 0 0 1 19.876 0 1 1 0 0 1 0 .696 10.75 10.75 0 0 1-19.876 0"/><circle cx="12" cy="12" r="3"/></svg>
<svg class="ic" style="left:1247px;top:880px;color:#99a1af" width="16" height="16" viewBox="0 0 24 24" fill="none" stroke="#99a1af" stroke-width="2" stroke-linecap="round" stroke-linejoin="round"><path d="M12 3H5a2 2 0 0 0-2 2v14a2 2 0 0 0 2 2h14a2 2 0 0 0 2-2v-7"/><path d="M18.375 2.625a1 1 0 0 1 3 3l-9.013 9.014a2 2 0 0 1-.853.505l-2.873.84a.5.5 0 0 1-.62-.62l.84-2.873a2 2 0 0 1 .506-.852z"/></svg>
<svg class="ic" style="left:1287px;top:880px;color:#99a1af" width="16" height="16" viewBox="0 0 24 24" fill="none" stroke="#99a1af" stroke-width="2" stroke-linecap="round" stroke-linejoin="round"><path d="M10 11v6"/><path d="M14 11v6"/><path d="M19 6v14a2 2 0 0 1-2 2H7a2 2 0 0 1-2-2V6"/><path d="M3 6h18"/><path d="M8 6V4a2 2 0 0 1 2-2h4a2 2 0 0 1 2 2v2"/></svg>
<svg class="ic" style="left:1327px;top:880px;color:#99a1af" width="16" height="16" viewBox="0 0 24 24" fill="none" stroke="#99a1af" stroke-width="2" stroke-linecap="round" stroke-linejoin="round"><circle cx="12" cy="12" r="1"/><circle cx="12" cy="5" r="1"/><circle cx="12" cy="19" r="1"/></svg>
</div>
</body></html>
